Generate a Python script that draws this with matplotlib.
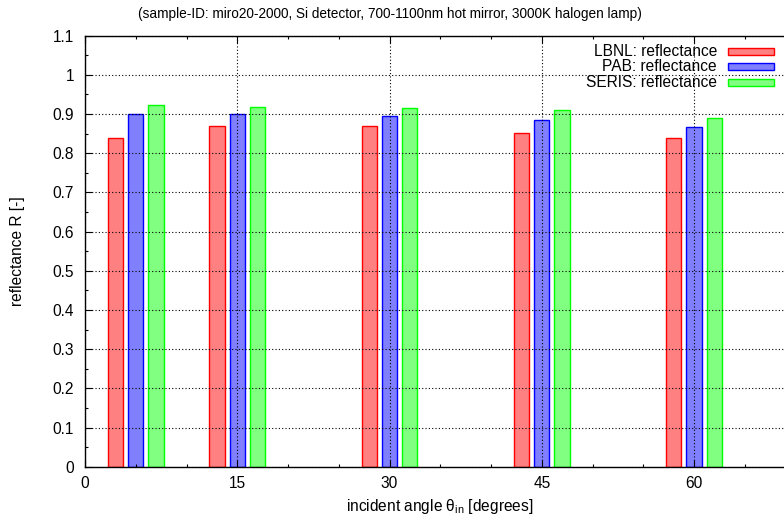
import matplotlib
matplotlib.use("Agg")
import matplotlib.pyplot as plt
from matplotlib.patches import Rectangle
from matplotlib.ticker import MultipleLocator

plt.rcParams['font.family'] = ['Liberation Sans', 'DejaVu Sans']
plt.rcParams['mathtext.fontset'] = 'custom'
plt.rcParams['mathtext.rm'] = 'Liberation Sans'
plt.rcParams['mathtext.it'] = 'Liberation Sans'

angles = [5, 15, 30, 45, 60]
series_names = ["LBNL: reflectance", "PAB: reflectance", "SERIS: reflectance"]
offsets = [-2, 0, 2]
lbnl = [0.839, 0.870, 0.869, 0.851, 0.840]
pab = [0.900, 0.900, 0.894, 0.884, 0.866]
seris = [0.922, 0.919, 0.916, 0.910, 0.890]
values = [lbnl, pab, seris]
edge_colors = ['#ff0000', '#0000ff', '#00ff00']
face_colors = ['#ff8080', '#8080ff', '#80ff80']

title = "(sample-ID: miro20-2000, Si detector, 700-1100nm hot mirror, 3000K halogen lamp)"
xlabel = r"incident angle θ$_{\mathrm{in}}$ [degrees]"
ylabel = "reflectance R [-]"

W, H = 784, 525
fig = plt.figure(figsize=(W / 100, H / 100), dpi=100)
left, right, top, bottom = 85, 795.5, 35.7, 466.7
ax = fig.add_axes([left / W, 1 - bottom / H, (right - left) / W, (bottom - top) / H])

fs = 11.2
fs_title = 9.8
for vals, off, ec, fc in zip(values, offsets, edge_colors, face_colors):
    xs = [a + off for a in angles]
    ax.bar(xs, vals, width=1.5, color=fc, edgecolor=ec, linewidth=1.0, zorder=2)

ax.set_xlim(0, 70)
ax.set_ylim(0, 1.1)
ax.xaxis.set_major_locator(MultipleLocator(15))
ax.xaxis.set_minor_locator(MultipleLocator(5))
ax.yaxis.set_major_locator(MultipleLocator(0.1))
ax.yaxis.set_minor_locator(MultipleLocator(0.05))
ax.yaxis.set_major_formatter(matplotlib.ticker.FuncFormatter(lambda v, p: f"{v:.1f}".rstrip('0').rstrip('.') if v != 0 else "0"))
ax.tick_params(which='both', direction='in', top=True, right=True, labelsize=fs, width=0.8)
ax.tick_params(which='major', length=5)
ax.tick_params(which='minor', length=2.5)
ax.tick_params(axis='y', pad=8)
ax.tick_params(axis='x', pad=7)
for s in ax.spines.values():
    s.set_linewidth(1.0)

ax.grid(True, which='major', axis='both', color='black', linestyle=(0, (1, 2)), linewidth=0.8, zorder=1)
ax.set_axisbelow(False)
for gl in ax.get_xgridlines() + ax.get_ygridlines():
    gl.set_zorder(3)

fig.text(390 / W, 1 - 14 / H, title, ha='center', va='center', fontsize=fs_title)
fig.text(440 / W, 1 - 507 / H, xlabel, ha='center', va='center', fontsize=fs)
fig.text(18 / W, 1 - 251 / H, ylabel, ha='center', va='center', rotation=90, fontsize=fs)

rows = [51.7, 66.7, 82.3]
for name, y, ec, fc in zip(series_names, rows, edge_colors, face_colors):
    fig.text(717 / W, 1 - y / H, name, ha='right', va='center', fontsize=fs)
    fig.patches.append(Rectangle((728 / W, 1 - (y + 3.5) / H), 46 / W, 7 / H,
                                 transform=fig.transFigure, facecolor=fc,
                                 edgecolor=ec, linewidth=1.0, figure=fig))

fig.savefig("out.png", dpi=100)
